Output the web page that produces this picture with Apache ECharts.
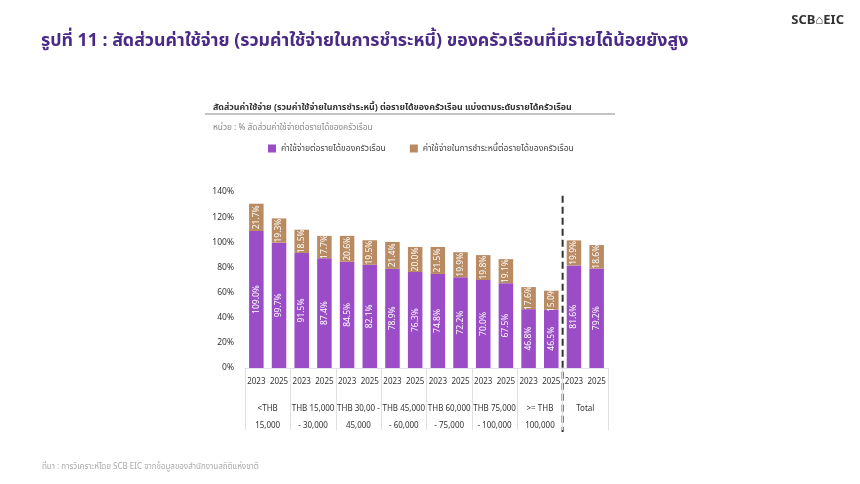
<!DOCTYPE html>
<html><head><meta charset="utf-8">
<script src="https://cdn.jsdelivr.net/npm/echarts@6/dist/echarts.min.js"></script>
<style>html,body{margin:0;padding:0;background:#fff}#c{width:860px;height:484px}</style>
</head><body><div id="c"></div>
<script>
const years = ['2023','2025','2023','2025','2023','2025','2023','2025','2023','2025','2023','2025','2023','2025','2023','2025'];
const groups = ['<THB\n15,000','THB 15,000\n- 30,000','THB 30,00 -\n45,000','THB 45,000\n- 60,000','THB 60,000\n- 75,000','THB 75,000\n- 100,000','>= THB\n100,000','Total'];
const expense = [109.0,99.7,91.5,87.4,84.5,82.1,78.9,76.3,74.8,72.2,70.0,67.5,46.8,46.5,81.6,79.2];
const debt = [21.7,19.3,18.5,17.7,20.6,19.5,21.4,20.0,21.5,19.9,19.8,19.1,17.6,15.0,19.9,18.6];
const yTicks = [0,20,40,60,80,100,120,140];
const seriesNames = ['ค่าใช้จ่ายต่อรายได้ของครัวเรือน','ค่าใช้จ่ายในการชำระหนี้ต่อรายได้ของครัวเรือน'];

const FONT = "'Noto Sans', 'Noto Sans Thai', Tahoma, sans-serif";
const chart = echarts.init(document.getElementById('c'));
const lbl = {show:true, rotate:90, position:'inside', color:'#fff', fontSize:8.5, fontFamily:FONT,
  formatter: p => p.value.toFixed(1) + '%'};
chart.setOption({
  animation:false,
  textStyle:{fontFamily:FONT},
  title:[
    {text:'รูปที่ 11 : สัดส่วนค่าใช้จ่าย (รวมค่าใช้จ่ายในการชำระหนี้) ของครัวเรือนที่มีรายได้น้อยยังสูง', left:36, top:27,
      textStyle:{color:'#4a2a86', fontSize:17.8, fontWeight:'bold', fontFamily:FONT}},
    {text:'SCB⌂EIC', right:11, top:9, textStyle:{color:'#333', fontSize:13, fontWeight:'bold', fontFamily:FONT}},
    {text:'สัดส่วนค่าใช้จ่าย (รวมค่าใช้จ่ายในการชำระหนี้) ต่อรายได้ของครัวเรือน แบ่งตามระดับรายได้ครัวเรือน', left:208, top:98,
      textStyle:{color:'#333', fontSize:8.9, fontWeight:'bold', fontFamily:FONT}},
    {text:'หน่วย : % สัดส่วนค่าใช้จ่ายต่อรายได้ของครัวเรือน', left:208, top:119,
      textStyle:{color:'#888', fontSize:8.3, fontWeight:'normal', fontFamily:FONT}},
    {text:'ที่มา : การวิเคราะห์โดย SCB EIC จากข้อมูลของสำนักงานสถิติแห่งชาติ', left:37, top:458,
      textStyle:{color:'#aaa', fontSize:8, fontWeight:'normal', fontFamily:FONT}}
  ],
  legend:{left:263, top:139, itemWidth:8, itemHeight:8, itemGap:24, icon:'rect',
    textStyle:{color:'#444', fontSize:8.6, fontFamily:FONT}, data:seriesNames},
  grid:{left:245, right:252, top:192, bottom:116, containLabel:false},
  xAxis:[
    {type:'category', data:years, position:'bottom',
      axisLine:{show:true, lineStyle:{color:'#e4e0ec'}}, axisTick:{show:false},
      axisLabel:{color:'#333', fontSize:8, margin:10, interval:0}},
    {type:'category', data:groups, position:'bottom', gridIndex:0,
      axisLine:{show:false}, axisTick:{show:true, length:62, lineStyle:{color:'#e0e0e0'}},
      axisLabel:{color:'#333', fontSize:8, margin:32, lineHeight:17, interval:0}}
  ],
  yAxis:{type:'value', min:0, max:140, interval:20, axisLine:{show:false}, axisTick:{show:false},
    splitLine:{show:false}, axisLabel:{color:'#333', fontSize:8.5, margin:11, formatter: v => v + '%'}},
  series:[
    {name:seriesNames[0], type:'bar', stack:'a', data:expense, barWidth:'64%', itemStyle:{color:'#9a4dc6'}, label:lbl},
    {name:seriesNames[1], type:'bar', stack:'a', data:debt, itemStyle:{color:'#b98b63'}, label:lbl}
  ]
});

// Decorations derived from the axes
const x13 = chart.convertToPixel({xAxisIndex:0}, 13);
const x14 = chart.convertToPixel({xAxisIndex:0}, 14);
const xd = (x13 + x14) / 2;
const yTop = chart.convertToPixel({yAxisIndex:0}, 137);
const yZero = chart.convertToPixel({yAxisIndex:0}, 0);
chart.setOption({
  graphic:[
    {type:'line', shape:{x1:xd, y1:yTop, x2:xd, y2:yZero+64}, style:{stroke:'#333', lineWidth:2, lineDash:[7,4]}},
    {type:'line', shape:{x1:205, y1:114, x2:615, y2:114}, style:{stroke:'#888', lineWidth:1}}
  ]
});
</script></body></html>
